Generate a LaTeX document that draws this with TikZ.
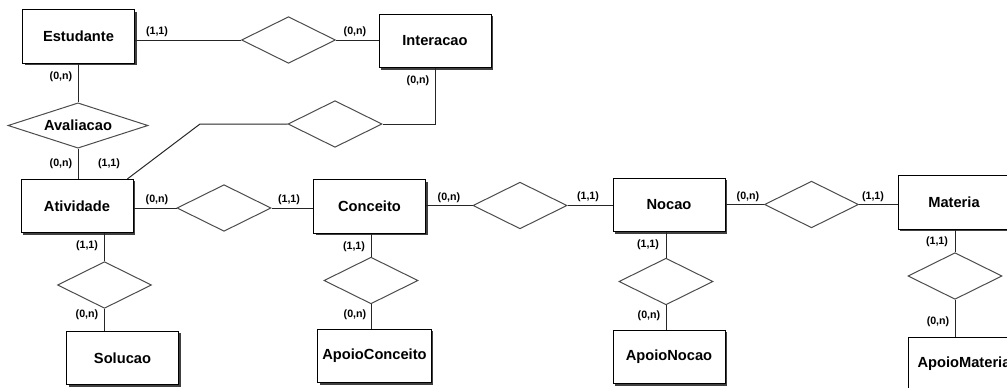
\documentclass[tikz,border=0pt]{standalone}
\usepackage{fontspec}
\setmainfont{Liberation Sans}
\usetikzlibrary{shapes.geometric,shadows}

\begin{document}
\begin{tikzpicture}[
    x=0.75pt, y=-0.75pt,
    entity/.style={draw=black, fill=white, line width=0.75pt, minimum width=84pt, minimum height=40pt, align=center, font=\fontsize{11}{13}\selectfont\bfseries, drop shadow={shadow xshift=1.5pt, shadow yshift=-1.5pt, fill=black!75, opacity=1}},
    rel/.style={diamond, aspect=3, draw=black!70, fill=white, line width=0.75pt, inner sep=0pt, minimum width=70.5pt, minimum height=35pt, font=\fontsize{11}{13}\selectfont\bfseries},
    card/.style={inner sep=0pt, font=\fontsize{8}{9}\selectfont\bfseries},
    link/.style={draw=black!85, line width=0.75pt}
]
\useasboundingbox (0,0) rectangle (1007,387);
\clip (0,0) rectangle (1007,387);

% entidades
\node[entity] (est) at (78.5,36.5) {Estudante};
\node[entity] (inter) at (435,41) {Interacao};
\node[entity] (ativ) at (77,206) {Atividade};
\node[entity] (conc) at (369.5,206.5) {Conceito};
\node[entity] (noc) at (669,205) {Nocao};
\node[entity] (mat) at (954,202.5) {Materia};
\node[entity] (sol) at (122.5,358) {Solucao};
\node[entity] (apconc) at (374.5,356) {ApoioConceito};
\node[entity] (apnoc) at (669,357) {ApoioNocao};
\node[entity] (apmat) at (964,364) {ApoioMateria};

% relacionamentos
\node[rel] (r1) at (288.5,40) {};
\node[rel] (r2) at (335,124) {};
\node[rel, minimum width=105pt, minimum height=34pt] (aval) at (78,125.5) {Avaliacao};
\node[rel] (r3) at (224,208) {};
\node[rel] (r4) at (520,205.5) {};
\node[rel] (r5) at (811.5,204.5) {};
\node[rel] (rsol) at (104.5,285) {};
\node[rel] (rconc) at (371,280.5) {};
\node[rel] (rnoc) at (666,281.5) {};
\node[rel] (rmat) at (955,276) {};
\coordinate (knee) at (200,124);

\draw[link] (est.east |- r1) -- (r1.west);
\draw[link] (r1.east) -- (inter.west |- r1);
\draw[link] (inter.south) -- (inter.south |- r2) -- (r2.east);
\draw[link] (r2.west) -- (knee) -- ([xshift=-4.5pt]ativ.north east);
\draw[link] (est.south -| aval) -- (aval.north);
\draw[link] (aval.south) -- (ativ.north -| aval);
\draw[link] (ativ.east |- r3) -- (r3.west);
\draw[link] (r3.east) -- (conc.west |- r3);
\draw[link] (conc.east |- r4) -- (r4.west);
\draw[link] (r4.east) -- (noc.west |- r4);
\draw[link] (noc.east |- r5) -- (r5.west);
\draw[link] (r5.east) -- (mat.west |- r5);
\draw[link] (ativ.south -| rsol) -- (rsol.north);
\draw[link] (rsol.south) -- (sol.north -| rsol);
\draw[link] (conc.south -| rconc) -- (rconc.north);
\draw[link] (rconc.south) -- (apconc.north -| rconc);
\draw[link] (noc.south -| rnoc) -- (rnoc.north);
\draw[link] (rnoc.south) -- (apnoc.north -| rnoc);
\draw[link] (mat.south -| rmat) -- (rmat.north);
\draw[link] (rmat.south) -- (apmat.north -| rmat);

% cardinalidades
\node[card] (c1) at (157,32) {(1,1)};
\node[card] (c2) at (355,32) {(0,n)};
\node[card] (c3) at (61,77) {(0,n)};
\node[card] (c4) at (418,81) {(0,n)};
\node[card] (c5) at (61,164) {(0,n)};
\node[card] (c6) at (109,164) {(1,1)};
\node[card] (c7) at (157,200) {(0,n)};
\node[card] (c8) at (289,200) {(1,1)};
\node[card] (c9) at (87,246) {(1,1)};
\node[card] (c10) at (87,315) {(0,n)};
\node[card] (c11) at (354,247) {(1,1)};
\node[card] (c12) at (355,315) {(0,n)};
\node[card] (c13) at (449,198) {(0,n)};
\node[card] (c14) at (588,197) {(1,1)};
\node[card] (c15) at (748,197) {(0,n)};
\node[card] (c16) at (873,197) {(1,1)};
\node[card] (c17) at (648,245) {(1,1)};
\node[card] (c18) at (649,316) {(0,n)};
\node[card] (c19) at (937,242) {(1,1)};
\node[card] (c20) at (938,322) {(0,n)};
\end{tikzpicture}
\end{document}
